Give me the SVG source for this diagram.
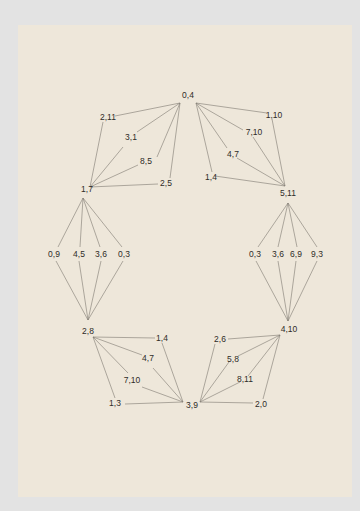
<svg xmlns="http://www.w3.org/2000/svg" width="360" height="511" viewBox="0 0 360 511">
<style>
.l{stroke:#7d7870;stroke-width:0.6;fill:none}
text{font-family:"Liberation Sans",sans-serif;font-size:8.5px;fill:#2f2c28;text-anchor:middle;dominant-baseline:central}
</style>
<rect x="0" y="0" width="360" height="511" fill="#e3e3e3"/>
<rect x="18" y="25" width="334" height="472" fill="#eee7da"/>
<g id="connectors" class="l">
<path d="M180,103 L115,116 M180,103 L137,132 M180,103 L157,157 M180,103 L170,178"/>
<path d="M90,187 L103,122 M90,187 L123,147 M90,187 L138,165 M90,187 L158,184"/>
<path d="M196,103 L267,113 M196,103 L243,130 M196,103 L227,148 M196,103 L212,172"/>
<path d="M285,186 L272,119 M285,186 L253,137 M285,186 L237,158 M285,186 L215,176"/>
<path d="M83,198 L58,247 M83,198 L80,247 M83,198 L100,247 M83,198 L122,247"/>
<path d="M56,261 L88,320 M79,261 L88,320 M101,261 L88,320 M123,261 L88,320"/>
<path d="M288,203 L258,247 M288,203 L278,247 M288,203 L297,247 M288,203 L317,247"/>
<path d="M256,261 L288,321 M278,261 L288,321 M296,261 L288,321 M317,261 L288,321"/>
<path d="M93,337 L155,338 M93,337 L142,355 M93,337 L128,373 M93,337 L115,398"/>
<path d="M183,402 L162,343 M183,402 L153,368 M183,402 L142,387 M183,402 L125,404"/>
<path d="M280,335 L228,339 M280,335 L238,356 M280,335 L248,376 M280,335 L263,399"/>
<path d="M200,402 L215,344 M200,402 L229,362 M200,402 L240,382 M200,402 L253,403"/>
</g>
<g id="n04"><text x="188" y="95">0,4</text></g>
<g id="n211"><text x="108" y="117">2,11</text></g>
<g id="n31"><text x="131" y="137">3,1</text></g>
<g id="n85"><text x="146" y="161">8,5</text></g>
<g id="n25"><text x="166" y="183">2,5</text></g>
<g id="n17"><text x="87" y="189">1,7</text></g>
<g id="n110"><text x="274" y="115">1,10</text></g>
<g id="n710"><text x="254" y="132">7,10</text></g>
<g id="n47a"><text x="233" y="154">4,7</text></g>
<g id="n14a"><text x="211" y="177">1,4</text></g>
<g id="n511"><text x="288" y="193">5,11</text></g>
<g id="n09"><text x="54" y="254">0,9</text></g>
<g id="n45"><text x="79" y="254">4,5</text></g>
<g id="n36a"><text x="101" y="254">3,6</text></g>
<g id="n03a"><text x="124" y="254">0,3</text></g>
<g id="n03b"><text x="255" y="254">0,3</text></g>
<g id="n36b"><text x="278" y="254">3,6</text></g>
<g id="n69"><text x="296" y="254">6,9</text></g>
<g id="n93"><text x="317" y="254">9,3</text></g>
<g id="n28"><text x="88" y="331">2,8</text></g>
<g id="n14b"><text x="162" y="338">1,4</text></g>
<g id="n47b"><text x="148" y="358">4,7</text></g>
<g id="n710b"><text x="132" y="380">7,10</text></g>
<g id="n13"><text x="115" y="403">1,3</text></g>
<g id="n39"><text x="192" y="405">3,9</text></g>
<g id="n410"><text x="289" y="329">4,10</text></g>
<g id="n26"><text x="220" y="339">2,6</text></g>
<g id="n58"><text x="233" y="359">5,8</text></g>
<g id="n811"><text x="245" y="379">8,11</text></g>
<g id="n20"><text x="261" y="404">2,0</text></g>
</svg>
